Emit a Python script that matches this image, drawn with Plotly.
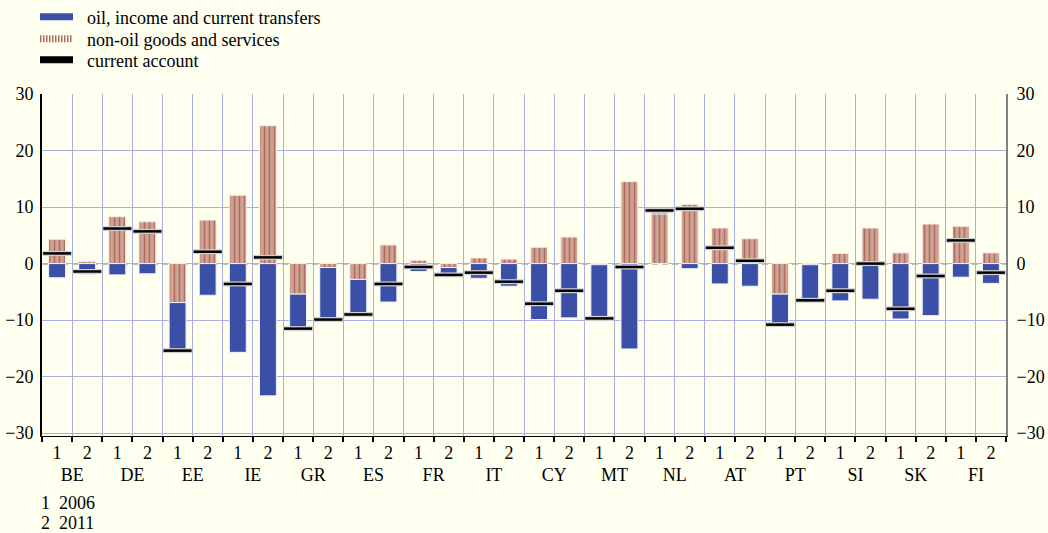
import plotly.graph_objects as go

countries = ["BE", "DE", "EE", "IE", "GR", "ES", "FR", "IT",
             "CY", "MT", "NL", "AT", "PT", "SI", "SK", "FI"]
periods = ["1", "2"]

# non-oil goods and services (2006, 2011 per country)
non_oil = [4.3, 0.4, 8.3, 7.4, -6.9, 7.7, 12.1, 24.4,
           -5.4, -0.7, -2.8, 3.3, 0.6, -0.7, 1.0, 0.8,
           2.9, 4.7, -0.2, 14.5, 8.8, 10.5, 6.3, 4.4,
           -5.4, -0.2, 1.8, 6.3, 1.9, 7.0, 6.6, 1.9]
# oil, income and current transfers
oil_income = [-2.5, -1.9, -2.0, -1.8, -8.6, -5.6, -15.7, -23.4,
              -6.0, -9.2, -6.3, -6.8, -1.4, -1.3, -2.6, -4.0,
              -9.9, -9.6, -9.5, -15.1, 0.6, -0.9, -3.6, -4.0,
              -5.4, -6.3, -6.6, -6.3, -9.8, -9.2, -2.4, -3.5]
# current account
current_account = [1.8, -1.4, 6.2, 5.7, -15.4, 2.1, -3.6, 1.1,
                   -11.5, -9.9, -9.0, -3.6, -0.6, -2.0, -1.6, -3.2,
                   -7.1, -4.8, -9.7, -0.6, 9.4, 9.7, 2.8, 0.5,
                   -10.8, -6.5, -4.8, 0.0, -8.0, -2.2, 4.1, -1.6]

series_names = ["oil, income and current transfers",
                "non-oil goods and services",
                "current account"]
year_notes = ["1\u00a0\u00a02006", "2\u00a0\u00a02011"]
y_ticks = [-30, -20, -10, 0, 10, 20, 30]

x_outer = [c for c in countries for _ in periods]
x_inner = [p for _ in countries for p in periods]
x = [x_outer, x_inner]

BLUE = "#3b4fa6"
BROWN_BG = "#cda494"
BROWN_FG = "#9a352b"
BG = "#fffff0"
GRID = "#a9afe2"
FONT = "Liberation Serif, Times New Roman, serif"
FS = 18

fig = go.Figure()

fig.add_trace(go.Bar(
    x=x, y=non_oil, name=series_names[1], showlegend=False,
    marker=dict(color=BROWN_BG,
                line=dict(color="#fbeee6", width=1),
                pattern=dict(shape="|", fgcolor=BROWN_FG, bgcolor=BROWN_BG,
                             size=5, solidity=0.32, fillmode="overlay")),
))
fig.add_trace(go.Bar(
    x=x, y=oil_income, name=series_names[0], showlegend=False,
    marker=dict(color=BLUE, line=dict(color="#eef0fb", width=1)),
))

# current account markers (light halo + black bar)
fig.add_trace(go.Scatter(
    x=x, y=current_account, mode="markers", showlegend=False, hoverinfo="skip",
    marker=dict(symbol="line-ew", size=21, line=dict(color="#d0d0d0", width=5)),
))
fig.add_trace(go.Scatter(
    x=x, y=current_account, mode="markers", name=series_names[2], showlegend=False,
    marker=dict(symbol="line-ew", size=20, line=dict(color="black", width=2.5)),
))
# invisible trace to anchor the right-hand axis
fig.add_trace(go.Scatter(
    x=x, y=current_account, mode="markers", yaxis="y2", showlegend=False,
    hoverinfo="skip", marker=dict(opacity=0),
))

# legend entries, one legend per row for exact spacing
lx = [[countries[0]], [periods[0]]]
legend_lines = [dict(color=BLUE, width=7),
                dict(color="#b06a5c", width=7, dash="1.5px,1.5px"),
                dict(color="black", width=7)]
legend_ids = ["legend", "legend2", "legend3"]
for name, ln, lid in zip(series_names, legend_lines, legend_ids):
    fig.add_trace(go.Scatter(x=lx, y=[None], mode="lines",
                             name="\u00a0\u00a0" + name, line=ln, legend=lid))

# dashed zero line (cream underlay hides the grid line)
fig.add_shape(type="line", xref="paper", yref="y", x0=0, x1=1, y0=0, y1=0,
              line=dict(color=BG, width=2), layer="between")
fig.add_shape(type="line", xref="paper", yref="y", x0=0, x1=1, y0=0, y1=0,
              line=dict(color="black", width=1.2, dash="6px,4px"), layer="between")

for i, note in enumerate(year_notes):
    fig.add_annotation(text=note, xref="paper", yref="paper",
                       x=-0.003, y=-0.197 - i * 0.056, xanchor="left", yanchor="middle",
                       showarrow=False, font=dict(family=FONT, size=FS, color="black"))

legend_rows_px = [17, 39, 60]
legend_common = dict(xref="container", yref="container", x=35 / 1048,
                     xanchor="left", yanchor="middle",
                     bgcolor="rgba(0,0,0,0)", font=dict(size=FS, family=FONT),
                     itemwidth=33)

fig.update_layout(
    width=1048, height=533,
    margin=dict(l=42, r=42, t=94, b=97, autoexpand=False),
    paper_bgcolor=BG, plot_bgcolor=BG,
    barmode="relative", bargap=0.44,
    font=dict(family=FONT, size=FS, color="black"),
    legend=dict(y=1 - legend_rows_px[0] / 533, **legend_common),
    legend2=dict(y=1 - legend_rows_px[1] / 533, **legend_common),
    legend3=dict(y=1 - legend_rows_px[2] / 533, **legend_common),
    xaxis=dict(type="multicategory", range=[-0.5, 31.5], automargin=False,
               showgrid=True, gridcolor=GRID, gridwidth=1,
               showline=True, linecolor="black", linewidth=1.2,
               ticks="outside", ticklen=5, tickcolor="black", tickwidth=1.5,
               showdividers=False, tickfont=dict(size=FS, family=FONT)),
    yaxis=dict(range=[-30.5, 30], tickvals=y_ticks, automargin=False,
               showgrid=True, gridcolor=GRID,
               gridwidth=1, zeroline=False, showline=True, linecolor="black",
               linewidth=2, ticks="", ticklabelstandoff=3,
               tickfont=dict(size=FS, family=FONT)),
    yaxis2=dict(range=[-30.5, 30], tickvals=y_ticks, overlaying="y", side="right",
                automargin=False,
                showgrid=False, zeroline=False, showline=True, linecolor="#808080",
                linewidth=2, ticks="", ticklabelstandoff=5,
                tickfont=dict(size=FS, family=FONT)),
)

fig.write_html("out.html",
               config={"displayModeBar": False},
               post_script="document.body.style.margin='0px';"
                           "document.body.style.background='#fffff0';")
